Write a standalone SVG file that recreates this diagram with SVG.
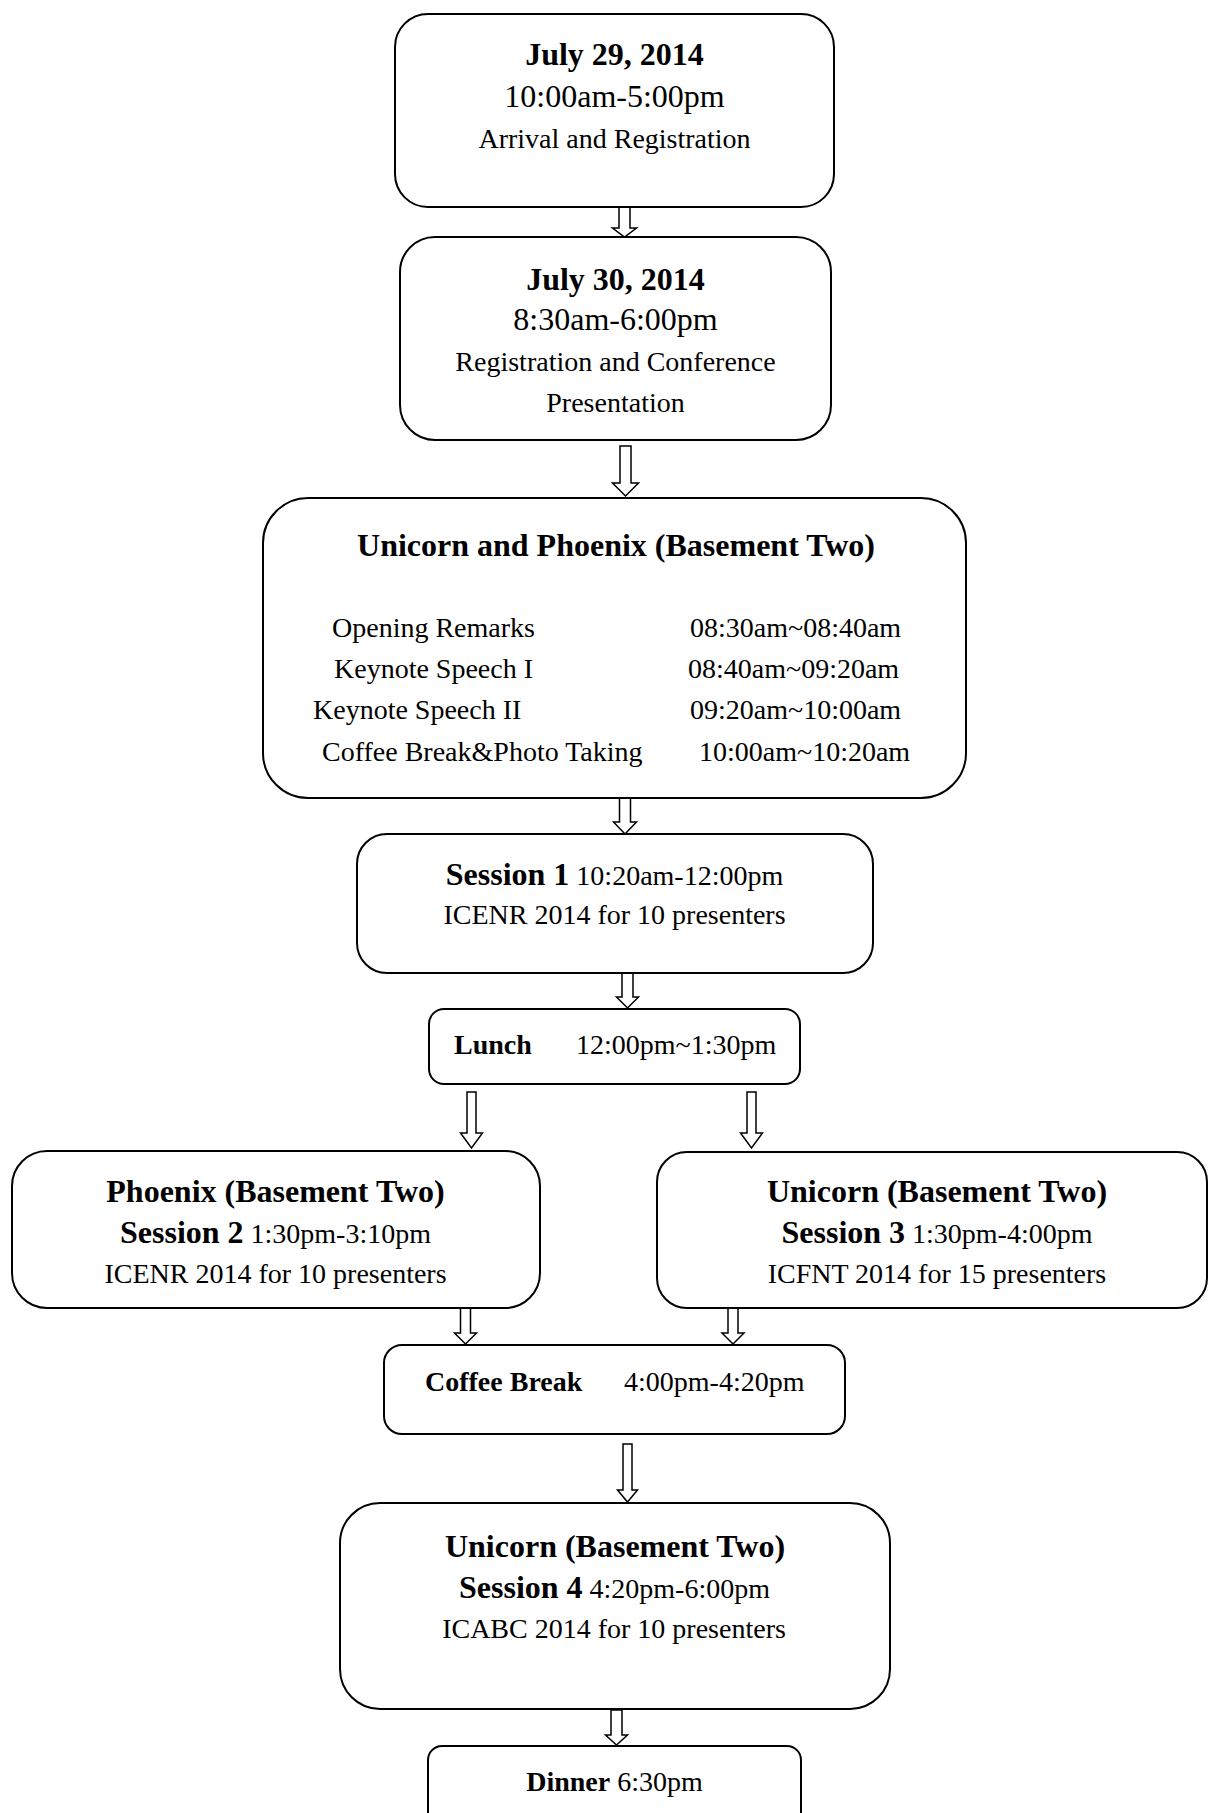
<svg xmlns="http://www.w3.org/2000/svg" width="1209" height="1813" viewBox="0 0 1209 1813">
<style>
.box{fill:#fff;stroke:#000;stroke-width:2}
.arr{fill:#fff;stroke:#000;stroke-width:1.5;stroke-linejoin:miter}
text{font-family:"Liberation Serif","Times New Roman",serif;fill:#000}
.c{text-anchor:middle}
.h{font-weight:bold;font-size:32px}
.m{font-size:32px}
.s{font-size:28px}
.b{font-weight:bold}
</style>
<rect width="1209" height="1813" fill="#fff"/>
<g id="connectors">
<polygon class="arr" points="619,207 630,207 630,228 636.5,228 624.5,237 612.5,228 619,228"/>
<polygon class="arr" points="620,446 631,446 631,483 638.5,483 625.5,496 612.5,483 620,483"/>
<polygon class="arr" points="619.5,798 630.5,798 630.5,822 636.5,822 625,834 613.5,822 619.5,822"/>
<polygon class="arr" points="622,973 633,973 633,997 638.5,997 627.5,1008 616.5,997 622,997"/>
<polygon class="arr" points="467,1092 476,1092 476,1133 482.5,1133 471.5,1148 460.5,1133 467,1133"/>
<polygon class="arr" points="747,1092 756,1092 756,1133 762.5,1133 751.5,1148 740.5,1133 747,1133"/>
<polygon class="arr" points="460.5,1308 470.5,1308 470.5,1333 476.5,1333 465.5,1344 454.5,1333 460.5,1333"/>
<polygon class="arr" points="728,1308 738,1308 738,1333 744,1333 733,1344 722,1333 728,1333"/>
<polygon class="arr" points="623,1444 632,1444 632,1490 637.5,1490 627.5,1502 617.5,1490 623,1490"/>
<polygon class="arr" points="611,1710 622,1710 622,1735 627.5,1735 616.5,1745 605.5,1735 611,1735"/>
</g>
<g id="n1">
<rect class="box" x="395" y="14" width="439" height="193" rx="33"/>
<text class="c h" x="614.5" y="65">July 29, 2014</text>
<text class="c m" x="614.5" y="107">10:00am-5:00pm</text>
<text class="c s" x="614.5" y="148">Arrival and Registration</text>
</g>
<g id="n2">
<rect class="box" x="400" y="237" width="431" height="203" rx="35"/>
<text class="c h" x="615.5" y="290">July 30, 2014</text>
<text class="c m" x="615.5" y="330">8:30am-6:00pm</text>
<text class="c s" x="615.5" y="371">Registration and Conference</text>
<text class="c s" x="615.5" y="412">Presentation</text>
</g>
<g id="n3">
<rect class="box" x="263" y="498" width="703" height="300" rx="45"/>
<text class="c h" x="616" y="556">Unicorn and Phoenix (Basement Two)</text>
<text class="s" x="332" y="637">Opening Remarks</text>
<text class="s" x="690" y="637">08:30am~08:40am</text>
<text class="s" x="334" y="678">Keynote Speech I</text>
<text class="s" x="688" y="678">08:40am~09:20am</text>
<text class="s" x="313" y="719">Keynote Speech II</text>
<text class="s" x="690" y="719">09:20am~10:00am</text>
<text class="s" x="322" y="761">Coffee Break&amp;Photo Taking</text>
<text class="s" x="699" y="761">10:00am~10:20am</text>
</g>
<g id="n4">
<rect class="box" x="357" y="834" width="516" height="139" rx="30"/>
<text class="c s" x="614.5" y="885"><tspan class="b" font-size="32">Session 1</tspan> 10:20am-12:00pm</text>
<text class="c s" x="614.5" y="924">ICENR 2014 for 10 presenters</text>
</g>
<g id="n5">
<rect class="box" x="429" y="1009" width="371" height="75" rx="15"/>
<text class="s b" x="454" y="1054">Lunch</text>
<text class="s" x="576" y="1054">12:00pm~1:30pm</text>
</g>
<g id="n6">
<rect class="box" x="12" y="1151" width="528" height="157" rx="35"/>
<text class="c h" x="275.5" y="1202">Phoenix (Basement Two)</text>
<text class="c s" x="275.5" y="1243"><tspan class="b" font-size="32">Session 2</tspan> 1:30pm-3:10pm</text>
<text class="c s" x="275.5" y="1283">ICENR 2014 for 10 presenters</text>
</g>
<g id="n7">
<rect class="box" x="657" y="1152" width="550" height="156" rx="30"/>
<text class="c h" x="937" y="1202">Unicorn (Basement Two)</text>
<text class="c s" x="937" y="1243"><tspan class="b" font-size="32">Session 3</tspan> 1:30pm-4:00pm</text>
<text class="c s" x="937" y="1283">ICFNT 2014 for 15 presenters</text>
</g>
<g id="n8">
<rect class="box" x="384" y="1345" width="461" height="89" rx="18"/>
<text class="s b" x="425" y="1391">Coffee Break</text>
<text class="s" x="624" y="1391">4:00pm-4:20pm</text>
</g>
<g id="n9">
<rect class="box" x="340" y="1503" width="550" height="206" rx="40"/>
<text class="c h" x="615" y="1557">Unicorn (Basement Two)</text>
<text class="c s" x="614.5" y="1598"><tspan class="b" font-size="32">Session 4</tspan> 4:20pm-6:00pm</text>
<text class="c s" x="614" y="1638">ICABC 2014 for 10 presenters</text>
</g>
<g id="n10">
<rect class="box" x="428" y="1746" width="373" height="100" rx="14"/>
<text class="c s" x="614.5" y="1791"><tspan class="b">Dinner</tspan> 6:30pm</text>
</g>
</svg>
